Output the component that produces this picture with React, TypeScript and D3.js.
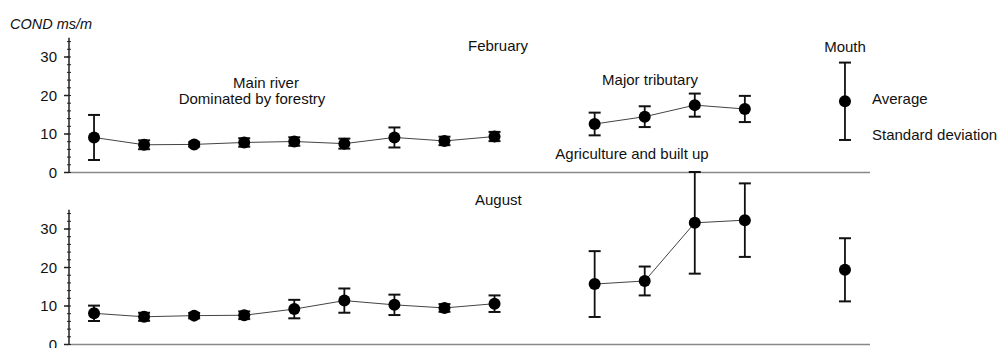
import React from "react";
import * as d3 from "d3";

// sampling sites along the river (x index), gap between groups
const mainSites = [0, 1, 2, 3, 4, 5, 6, 7, 8];
const tribSites = [10, 11, 12, 13];
const mouthSite = 15;

// February conductivity (mean, standard deviation)
const febMainMean = [9.1, 7.2, 7.3, 7.8, 8.05, 7.5, 9.1, 8.2, 9.35];
const febMainSd = [5.85, 1.15, 0.55, 1.1, 1.1, 1.3, 2.6, 1.1, 1.2];
const febTribMean = [12.6, 14.5, 17.5, 16.5];
const febTribSd = [2.95, 2.7, 3.0, 3.4];
const febMouthMean = 18.5;
const febMouthSd = 10.05;

// August conductivity
const augMainMean = [8.1, 7.2, 7.5, 7.6, 9.2, 11.4, 10.3, 9.5, 10.6];
const augMainSd = [2.0, 1.05, 0.7, 1.0, 2.4, 3.15, 2.65, 1.0, 2.15];
const augTribMean = [15.7, 16.5, 31.6, 32.3];
const augTribSd = [8.55, 3.75, 13.2, 9.55];
const augMouthMean = 19.4;
const augMouthSd = 8.2;

const yTicks = [0, 10, 20, 30];
const minorTicks = d3.range(0, 35, 2);

const font = "'Liberation Sans', Arial, sans-serif";

type Pt = { x: number; mean: number; sd: number };

const zip = (xs: number[], m: number[], s: number[]): Pt[] =>
  xs.map((x, i) => ({ x, mean: m[i], sd: s[i] }));

const x = d3.scaleLinear().domain([-0.5, 15.5]).range([69, 870]);

const Panel = ({
  y0,
  groups,
}: {
  y0: number;
  groups: { pts: Pt[]; joined: boolean }[];
}) => {
  const y = d3.scaleLinear().domain([0, 35]).range([y0, y0 - 134.75]);
  const line = d3
    .line<Pt>()
    .x((d) => x(d.x))
    .y((d) => y(d.mean));
  return (
    <g>
      {/* baseline */}
      <line x1={x(-0.5)} x2={x(15.5)} y1={y(0)} y2={y(0)} stroke="#888" strokeWidth={1.5} />
      {/* y axis */}
      <line x1={x(-0.5)} x2={x(-0.5)} y1={y(0)} y2={y(35)} stroke="#222" strokeWidth={1.5} />
      {minorTicks.map((t) => (
        <line key={"m" + t} x1={x(-0.5) - 2} x2={x(-0.5) + 2} y1={y(t)} y2={y(t)} stroke="#222" strokeWidth={1} />
      ))}
      {yTicks.map((t) => (
        <g key={t}>
          <line x1={x(-0.5) - 5} x2={x(-0.5)} y1={y(t)} y2={y(t)} stroke="#222" strokeWidth={1.5} />
          <text x={x(-0.5) - 12} y={y(t)} dy="0.36em" textAnchor="end" fontSize={15}>
            {t}
          </text>
        </g>
      ))}
      {groups.map((g, gi) => (
        <g key={gi}>
          {g.joined && <path d={line(g.pts) || ""} fill="none" stroke="#444" strokeWidth={1} />}
          {g.pts.map((p) => (
            <g key={p.x}>
              <line x1={x(p.x)} x2={x(p.x)} y1={y(p.mean - p.sd)} y2={y(p.mean + p.sd)} stroke="#111" strokeWidth={1.8} />
              <line x1={x(p.x) - 6} x2={x(p.x) + 6} y1={y(p.mean + p.sd)} y2={y(p.mean + p.sd)} stroke="#111" strokeWidth={2} />
              <line x1={x(p.x) - 6} x2={x(p.x) + 6} y1={y(p.mean - p.sd)} y2={y(p.mean - p.sd)} stroke="#111" strokeWidth={2} />
              <circle cx={x(p.x)} cy={y(p.mean)} r={6} fill="#000" />
            </g>
          ))}
        </g>
      ))}
    </g>
  );
};

export default function App() {
  return (
    <svg
      width={1003}
      height={348}
      style={{ position: "absolute", left: 0, top: 0, background: "#fff" }}
      fontFamily={font}
      fill="#111"
    >
      <Panel
        y0={172.5}
        groups={[
          { pts: zip(mainSites, febMainMean, febMainSd), joined: true },
          { pts: zip(tribSites, febTribMean, febTribSd), joined: true },
          { pts: [{ x: mouthSite, mean: febMouthMean, sd: febMouthSd }], joined: false },
        ]}
      />
      <Panel
        y0={344.5}
        groups={[
          { pts: zip(mainSites, augMainMean, augMainSd), joined: true },
          { pts: zip(tribSites, augTribMean, augTribSd), joined: true },
          { pts: [{ x: mouthSite, mean: augMouthMean, sd: augMouthSd }], joined: false },
        ]}
      />
      <text x={10} y={29} fontSize={14.5} fontStyle="italic">COND ms/m</text>
      <text x={468} y={51} fontSize={15}>February</text>
      <text x={475} y={205} fontSize={15}>August</text>
      <text x={266} y={88} fontSize={15} textAnchor="middle">Main river</text>
      <text x={252} y={104} fontSize={15} textAnchor="middle">Dominated by forestry</text>
      <text x={650} y={85} fontSize={15} textAnchor="middle">Major tributary</text>
      <text x={632} y={159} fontSize={15} textAnchor="middle">Agriculture and built up</text>
      <text x={845} y={52} fontSize={15} textAnchor="middle">Mouth</text>
      <text x={872} y={104} fontSize={15}>Average</text>
      <text x={872} y={140} fontSize={15}>Standard deviation</text>
    </svg>
  );
}
